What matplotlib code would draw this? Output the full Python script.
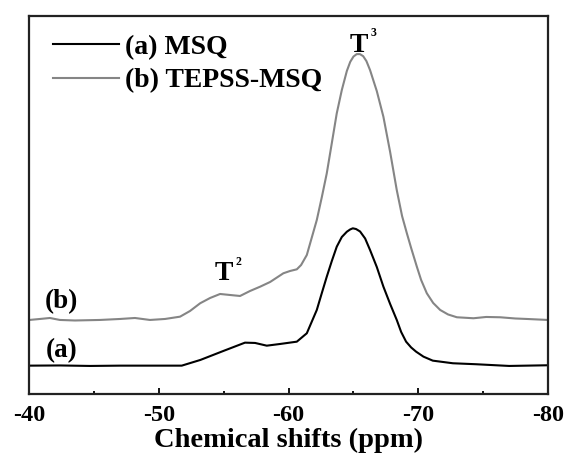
import matplotlib
matplotlib.use('Agg')
from matplotlib import pyplot as plt
from matplotlib.ticker import MultipleLocator

# (a) MSQ, black trace
ppm_a = [-40.00, -42.35, -44.67, -46.99, -49.30, -51.75, -53.19, -54.96, -56.63, -57.41,
         -58.31, -59.34, -60.63, -61.40, -62.17, -62.56, -62.94, -63.33, -63.71, -64.10,
         -64.49, -64.75, -64.95, -65.20, -65.51, -65.90, -66.28, -66.80, -67.31, -67.83,
         -68.34, -68.68, -69.06, -69.45, -69.83, -70.40, -71.12, -72.67, -74.47, -77.01,
         -80.00]
int_a = [7.48, 7.53, 7.40, 7.48, 7.48, 7.48, 8.99, 11.36, 13.56, 13.48,
         12.76, 13.21, 13.82, 16.04, 22.20, 26.69, 31.00, 35.15, 38.93, 41.49,
         42.89, 43.50, 43.79, 43.60, 42.95, 41.10, 38.05, 33.56, 28.36, 23.78,
         19.56, 16.38, 13.82, 12.29, 11.18, 9.86, 8.80, 8.11, 7.85, 7.40,
         7.58]

# (b) TEPSS-MSQ, grey trace
ppm_b = [-40.00, -40.81, -41.58, -42.35, -43.51, -45.44, -46.99, -48.14, -49.30, -50.46,
         -51.62, -52.39, -53.17, -53.94, -54.71, -55.48, -56.25, -57.02, -57.80, -58.57,
         -59.59, -60.11, -60.63, -60.96, -61.40, -61.73, -62.17, -62.56, -62.94, -63.33,
         -63.71, -64.10, -64.49, -64.75, -65.00, -65.25, -65.50, -65.75, -66.00, -66.28,
         -66.80, -67.31, -67.83, -68.34, -68.75, -69.12, -69.45, -69.89, -70.22, -70.66,
         -71.15, -71.69, -72.30, -72.98, -74.26, -75.24, -76.32, -77.48, -78.38, -80.00]
int_b = [19.56, 19.82, 20.08, 19.56, 19.42, 19.56, 19.82, 20.08, 19.56, 19.82,
         20.43, 21.93, 23.97, 25.37, 26.43, 26.16, 25.90, 27.22, 28.36, 29.60,
         31.90, 32.51, 32.95, 34.09, 36.73, 40.70, 45.98, 52.06, 58.32, 66.33,
         74.18, 80.34, 85.40, 87.80, 89.20, 89.85, 89.85, 89.30, 88.00, 85.62,
         80.07, 73.28, 63.95, 53.91, 47.04, 42.47, 38.58, 33.64, 30.13, 26.61,
         24.05, 22.20, 21.01, 20.27, 20.01, 20.35, 20.27, 19.95, 19.82, 19.56]

x_ticks = [-40, -50, -60, -70, -80]

plt.rcParams['font.family'] = ['Liberation Serif', 'DejaVu Serif']
plt.rcParams['font.weight'] = 'bold'

fig = plt.figure(figsize=(5.66, 4.57), dpi=100)
ax = fig.add_axes([0.052, 0.138, 0.916, 0.8276])

ax.plot(ppm_a, int_a, color='#000000', linewidth=1.5, label='(a) MSQ')
ax.plot(ppm_b, int_b, color='#858585', linewidth=1.5, label='(b) TEPSS-MSQ')

ax.set_xlim(-40, -80)
ax.set_ylim(0, 100)
ax.set_xticks(x_ticks)
ax.set_xticklabels([str(t) for t in x_ticks])
ax.xaxis.set_minor_locator(MultipleLocator(5))
ax.set_yticks([])
ax.tick_params(axis='x', which='major', direction='in', length=4, width=1.3, labelsize=17.5, pad=8)
ax.tick_params(axis='x', which='minor', direction='in', length=2.5, width=1.3)
for sp in ax.spines.values():
    sp.set_linewidth(1.6)
    sp.set_color('#222222')

ax.set_xlabel('Chemical shifts (ppm)', fontsize=20.5, fontweight='bold', labelpad=1.5)

ax.text(-42.45, 11.4, '(a)', fontsize=19.5, ha='center', va='center')
ax.text(-42.45, 24.3, '(b)', fontsize=19.5, ha='center', va='center')

# peak labels: letter plus small superscript placed just right of it
for pos, sup in [((-54.3, 30.1), '2'), ((-64.74, 90.5), '3')]:
    ax.text(pos[0], pos[1], 'T', fontsize=20, ha='left', va='baseline')
    ax.annotate(sup, xy=pos, xytext=(15, 9), textcoords='offset points',
                fontsize=8.5, ha='left', va='bottom')

ax.legend(loc='upper left', bbox_to_anchor=(0.006, 1.006), frameon=False, fontsize=20,
          handlelength=2.35, handletextpad=0.22, labelspacing=0.3, borderaxespad=0.35,
          borderpad=0.4)

fig.savefig('out.png', dpi=100)
